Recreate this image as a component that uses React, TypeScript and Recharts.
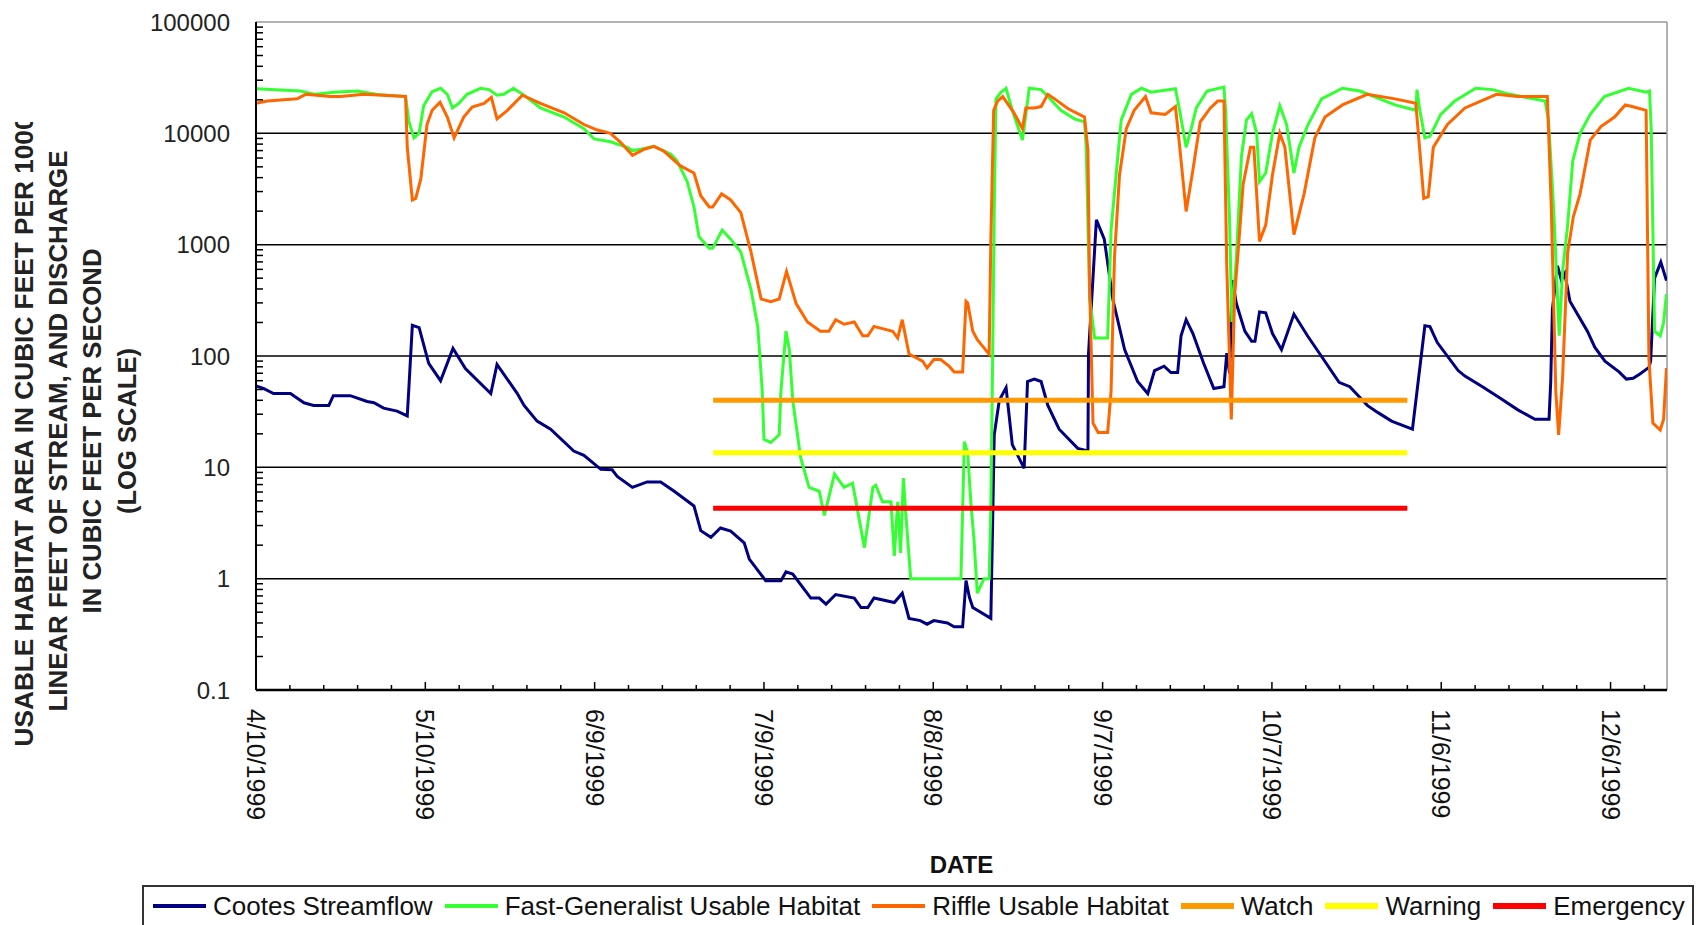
import React from "react";
import {
  LineChart,
  Line,
  XAxis,
  YAxis,
  ReferenceLine,
  Legend,
} from "recharts";

// x values are days since 4/10/1999
const dateTickDays = [0, 30, 60, 90, 120, 150, 180, 210, 240];
const dateTickLabels = [
  "4/10/1999",
  "5/10/1999",
  "6/9/1999",
  "7/9/1999",
  "8/8/1999",
  "9/7/1999",
  "10/7/1999",
  "11/6/1999",
  "12/6/1999",
];
const yMajorTicks = [0.1, 1, 10, 100, 1000, 10000, 100000];

const cootesDay = [
  0, 1.4, 3.1, 6.1, 8.5, 10.2, 12.9, 13.7, 16.7, 19.7, 20.9, 22.6, 25, 26.8, 27.1, 27.7,
  28.9, 30.6, 32.7, 34.9, 37.1, 41.6, 42.7, 46.3, 47.5, 49.8, 52.2, 56.3, 58.1, 61.1,
  63.1, 64, 66.7, 69.3, 71.7, 74.1, 77.6, 78.8, 80.6, 82.3, 84.1, 86.5, 87.4, 90.3, 93,
  93.9, 95.1, 98.3, 99.8, 101, 102.7, 106, 107.2, 108.4, 109.5, 113.1, 114.5, 115.7,
  117.7, 118.9, 120.1, 122.5, 123.7, 125.2, 125.8, 126.4, 127, 130.2, 130.5, 130.8, 131.7,
  132.9, 134, 136.1, 136.7, 137.9, 139.1, 140.3, 142.3, 145.6, 147.4, 147.5, 148.9, 150.3,
  151.8, 153.9, 156.2, 158, 159.2, 160.9, 162.1, 163.3, 163.9, 164.8, 166, 167.9, 169.7,
  171.5, 172, 172.5, 173, 173.7, 175.2, 176.4, 177, 177.8, 178.9, 180.1, 181.7, 183.9,
  186.3, 188.8, 191.9, 193.8, 196.9, 198.8, 201.2, 204.3, 204.9, 206.2, 207.1, 208, 209.3,
  213, 214.2, 217.3, 220.4, 223.5, 226.6, 229.1, 229.4, 229.7, 230.6, 231.3, 231.9, 232.8,
  235.9, 237.2, 239, 241.5, 242.8, 244, 245.2, 246.8, 247.1, 247.8, 248.9, 249.9,
];
const cootesCfs = [
  54, 51, 46, 46, 38, 36, 36, 44, 44, 39, 38, 34, 32, 29, 53, 189,
  180, 86, 60, 117, 77, 46, 84, 46, 36, 26, 22, 14, 12.8, 9.6,
  9.5, 8.3, 6.6, 7.4, 7.4, 6.1, 4.5, 2.7, 2.35, 2.85, 2.67, 2.1, 1.5, 0.96, 0.96,
  1.15, 1.1, 0.67, 0.67, 0.59, 0.72, 0.67, 0.55, 0.55, 0.67, 0.61, 0.74, 0.44,
  0.42, 0.39, 0.42, 0.4, 0.37, 0.37, 0.96, 0.68, 0.55, 0.44, 2.85, 19.6, 40,
  52, 16, 9.8, 59, 62, 59, 36, 22, 14.8, 14, 104, 1670, 1120,
  325, 114, 59, 46, 74, 81, 71, 71, 152, 212, 159, 86, 51,
  53, 106, 70, 480, 296, 167, 136, 136, 249, 244, 159, 114, 238,
  152, 99, 58, 53, 36, 31, 26, 22.6, 22, 78, 187, 184, 132,
  74, 66, 53, 42, 33, 27, 27, 59, 264, 646, 476, 550, 310,
  167, 120, 90, 72, 62, 63, 69, 79, 90, 500, 697, 476,
];

const fastDay = [
  0, 7.9, 10.5, 13.8, 17.9, 21.5, 26.5, 27.1, 28, 28.9, 29.7, 31.2, 32.7, 33.9, 34.8, 35.9,
  37.4, 39.8, 41.3, 42.7, 43.9, 45.6, 47.5, 50.4, 54.6, 58.1, 59.9, 62.8, 65.8, 66.7, 68.2,
  70.5, 73.5, 74.6, 76.4, 77.6, 78.5, 80.3, 80.9, 82.6, 84.1, 85.9, 87.7, 88.9, 89.7, 90,
  91.2, 92.7, 93, 93.9, 94.5, 95.1, 96.5, 98, 99.8, 100.7, 102.5, 104.2, 105.7, 107.8,
  109.3, 109.8, 111, 112.5, 113.1, 113.7, 114.2, 114.7, 115.1, 116, 124.9, 125.5, 126.1,
  126.7, 127.2, 127.8, 129, 129.9, 130.2, 130.5, 130.8, 131.1, 132, 132.9, 134, 135.8,
  136.4, 137, 139.1, 140.3, 142.6, 145, 146.8, 147.1, 147.7, 148.6, 150.9, 151.5, 152.4,
  153.3, 155.1, 156.9, 158.6, 162.9, 163.5, 164.8, 165.7, 166.6, 168.5, 171.5, 171.8,
  172.5, 172.9, 173.7, 174.6, 175.5, 176.4, 177.3, 177.8, 178.9, 180.1, 181.4, 182.6,
  183.9, 184.8, 186.4, 188.8, 192.5, 195.6, 201.8, 205.5, 205.7, 206.2, 207.1, 208,
  209.9, 212.4, 216.1, 219.1, 222.2, 228.4, 229, 229.9, 230.9, 231.5, 232.4, 233.3,
  234.6, 236.4, 238.9, 243.2, 246.3, 246.9, 247.2, 247.8, 248.8, 249.4, 249.9,
];
const fastHabitat = [
  25200, 24000, 22400, 23400, 24000, 22300, 21400, 12700, 9100, 10000, 17700, 23600, 25400, 22400, 16900, 18500,
  22400, 25400, 24700, 22000, 22400, 25400, 22000, 16900, 14000, 11000, 8900, 8400, 7500, 7000, 7200,
  7650, 6500, 5650, 3680, 2180, 1175, 927, 927, 1355, 1120, 860, 394, 184, 48.5, 17.9,
  16.7, 19.6, 48, 167, 114, 40, 12.2, 6.6, 6.1, 3.7, 8.7, 6.6, 7.2, 1.9,
  6.6, 6.9, 4.9, 4.9, 1.6, 4.9, 1.7, 8, 4, 1.0, 1.0, 17, 13.4,
  4.5, 2.3, 0.74, 1.0, 1.0, 4.5, 78, 1990, 20400, 23400, 25400, 16100, 8700,
  14800, 25400, 24700, 21400, 16100, 13500, 12700, 7500, 325, 145, 145, 1355, 4250,
  13200, 22400, 25400, 23400, 25200, 17700, 7500, 11000, 16900, 24000, 26000, 16100,
  1640, 202, 765, 6200, 13200, 15000, 10000, 3680, 4400, 10000, 17700, 12000,
  4400, 7500, 12000, 20400, 25400, 24000, 18000, 16100, 24700, 16100, 9100, 9400,
  14800, 19500, 25400, 24700, 22400, 19500, 13200, 2180, 152, 575, 1500, 5650,
  10000, 14800, 21400, 25400, 23400, 24000, 11000, 167, 152, 200, 360,
];

const riffleDay = [
  0, 2, 7.3, 8.8, 13.2, 15, 19.1, 26.5, 26.8, 27.7, 28.3, 29.2, 30.3, 31.2, 32.6, 33.9,
  35.1, 36.8, 38.3, 40.4, 41.7, 42.7, 44.5, 47.2, 50.4, 54.6, 58.1, 60.5, 62.8, 64.6,
  66.7, 68.8, 70.5, 72.3, 75.2, 77.6, 78.8, 80.3, 80.9, 82.5, 84.1, 85.9, 87.7, 89.5,
  91.2, 92.7, 94, 95.7, 97.7, 100, 101.5, 102.7, 104.2, 106, 107.5, 108.4, 109.5, 111,
  112.8, 113.7, 114.5, 115.7, 118.1, 118.9, 120.1, 121.3, 122.8, 123.7, 125.2, 125.8,
  126.1, 127, 127.8, 129.9, 130.2, 130.7, 131.4, 132.3, 134.3, 135.8, 136.4, 137.9,
  139.1, 140.3, 141.5, 143.9, 146.8, 147.4, 147.7, 148.3, 149.2, 150.9, 151.5, 152.1,
  153, 154.2, 155.6, 157.6, 158.6, 161.1, 162.9, 163.5, 164.8, 166, 167.3, 169.1, 170.4,
  171.5, 172, 172.8, 173.4, 174, 174.9, 176.2, 176.8, 177.8, 178.9, 180.1, 181.4, 182.3,
  183.9, 185.7, 187.6, 189.4, 192.5, 196.9, 201.8, 205.5, 206.2, 206.9, 207.7, 208.6,
  211.1, 214.2, 219.8, 223.5, 228.8, 229.5, 230.3, 230.8, 231.5, 232.4, 233.4, 234.6,
  236.4, 238.3, 240.7, 242.6, 243.8, 246.3, 246.8, 247.5, 248.8, 249.4, 249.9,
];
const riffleHabitat = [
  18600, 19500, 20400, 22400, 21400, 21400, 22400, 21400, 7500, 2520, 2600, 3900, 12000, 16100, 19000, 14000,
  9100, 14000, 17200, 18600, 21000, 13500, 16000, 22000, 18600, 15300, 12000, 10700, 10000, 8300,
  6350, 7200, 7650, 6900, 5100, 4400, 2750, 2180, 2180, 2860, 2520, 1940, 860, 325,
  308, 325, 575, 296, 202, 167, 167, 212, 193, 202, 152, 152, 184, 176,
  167, 145, 212, 104, 90, 78, 93, 93, 81, 72, 72, 310,
  300, 167, 140, 104, 1120, 16100, 19500, 21400, 15300, 11000, 16900, 16900,
  17400, 22400, 20400, 16600, 14000, 7000, 432, 25, 20.6, 20.6, 48, 765,
  4250, 11000, 16100, 21400, 15300, 14800, 17400, 9100, 1990, 4680, 12700, 16900, 19500,
  19500, 634, 26.9, 358, 850, 3500, 7500, 7500, 1070, 1500, 4250, 10000, 7500,
  1230, 2860, 9100, 14000, 18000, 22400, 20400, 18600, 7000, 2600, 2700, 7500,
  12000, 16900, 22400, 21400, 21400, 2180, 48, 19.6, 64, 850, 1780, 2860,
  8700, 11500, 14000, 18000, 17400, 16100, 94, 25, 21.6, 27, 78,
];

// trigger levels run 6/30/1999 - 10/31/1999
const triggerDays = [81, 204];
const watchLevel = [40, 40];
const warningLevel = [13.5, 13.5];
const emergencyLevel = [4.3, 4.3];

const seriesOrder = [
  "Cootes Streamflow",
  "Fast-Generalist Usable Habitat",
  "Riffle Usable Habitat",
  "Watch",
  "Warning",
  "Emergency",
];

const zip = (days: number[], vals: number[]) =>
  days.map((day, i) => ({ day, v: vals[i] }));

const minorTickDays = Array.from({ length: 42 }, (_, i) => i * 6);
const yTicks = [
  ...yMajorTicks,
  ...yMajorTicks.slice(0, 6).flatMap((d) =>
    [2, 3, 4, 5, 6, 7, 8, 9].map((m) => m * d)
  ),
].sort((a, b) => a - b);

const FONT = "'Liberation Sans', Arial, sans-serif";
const NARROW = "'Liberation Sans Narrow', 'Arial Narrow', 'Liberation Sans', Arial, sans-serif";
const thresholdNames = ["Watch", "Warning", "Emergency"];

function DateTick(props: any) {
  const { x, y, payload } = props;
  const idx = dateTickDays.indexOf(payload.value);
  const major = idx >= 0;
  return (
    <g>
      <line x1={x} x2={x} y1={y} y2={y - (major ? 8 : 5)} stroke="#000" strokeWidth={1.5} />
      {major && (
        <text
          transform={`translate(${x},${y + 19}) rotate(90)`}
          textAnchor="start"
          dominantBaseline="central"
          fontSize={25}
          fontFamily={FONT}
          fill="#111"
        >
          {dateTickLabels[idx]}
        </text>
      )}
    </g>
  );
}

function ValueTick(props: any) {
  const { x, y, payload } = props;
  const major = yMajorTicks.includes(payload.value);
  return (
    <g>
      {!major && <line x1={x} x2={x + 7} y1={y} y2={y} stroke="#000" strokeWidth={1.5} />}
      {major && (
        <text
          x={x - 26}
          y={y}
          textAnchor="end"
          dominantBaseline="central"
          fontSize={24}
          fontFamily={FONT}
          fill="#222"
        >
          {String(payload.value)}
        </text>
      )}
    </g>
  );
}

function YTitle() {
  const lines = [
    { text: "USABLE HABITAT AREA IN CUBIC FEET PER 1000", x: 24, len: 631 },
    { text: "LINEAR FEET OF STREAM, AND DISCHARGE", x: 58, len: 561 },
    { text: "IN CUBIC FEET PER SECOND", x: 92, len: 365 },
    { text: "(LOG SCALE)", x: 127, len: 166 },
  ];
  return (
    <g>
      <defs>
        <clipPath id="ytitle-clip">
          <rect x={0} y={122} width={150} height={700} />
        </clipPath>
      </defs>
      <g clipPath="url(#ytitle-clip)">
        {lines.map((l) => (
          <text
            key={l.text}
            transform={`translate(${l.x},431) rotate(-90)`}
            textAnchor="middle"
            dominantBaseline="central"
            fontSize={25}
            fontWeight="bold"
            fontFamily={NARROW}
            fill="#222"
            textLength={l.len}
            lengthAdjust="spacingAndGlyphs"
          >
            {l.text}
          </text>
        ))}
      </g>
    </g>
  );
}

function LegendBox(props: any) {
  const { payload = [] } = props;
  const items = [...payload].sort(
    (a: any, b: any) => seriesOrder.indexOf(a.value) - seriesOrder.indexOf(b.value)
  );
  return (
    <div
      style={{
        height: 40,
        boxSizing: "border-box",
        border: "2px solid #333",
        borderBottom: "none",
        background: "#fff",
        display: "flex",
        alignItems: "center",
        paddingLeft: 9,
        fontFamily: FONT,
        fontSize: 26,
        color: "#111",
        whiteSpace: "nowrap",
      }}
    >
      {items.map((e: any) => (
        <div key={e.value} style={{ display: "flex", alignItems: "center", marginRight: 12 }}>
          <span
            style={{
              display: "inline-block",
              width: 53,
              height: thresholdNames.includes(e.value) ? 6 : 4,
              background: e.color,
              marginRight: 7,
            }}
          />
          <span style={{ lineHeight: "28px" }}>{e.value}</span>
        </div>
      ))}
    </div>
  );
}

export default function App() {
  const cootes = zip(cootesDay, cootesCfs);
  const fast = zip(fastDay, fastHabitat);
  const riffle = zip(riffleDay, riffleHabitat);
  const watch = zip(triggerDays, watchLevel);
  const warning = zip(triggerDays, warningLevel);
  const emergency = zip(triggerDays, emergencyLevel);

  return (
    <div style={{ position: "absolute", left: 0, top: 0, width: 1698, height: 925, background: "#fff" }}>
      <LineChart width={1698} height={925} margin={{ top: 22, right: 31, bottom: 0, left: 0 }}>
        <XAxis
          type="number"
          dataKey="day"
          domain={[0, 250]}
          allowDataOverflow
          ticks={minorTickDays}
          interval={0}
          tick={<DateTick />}
          tickLine={false}
          tickSize={0}
          tickMargin={0}
          height={195}
          axisLine={{ stroke: "#000", strokeWidth: 2.5 }}
          label={{
            value: "DATE",
            position: "insideBottom",
            offset: 12,
            fontSize: 24,
            fontWeight: "bold",
            fontFamily: FONT,
            fill: "#111",
          }}
        />
        <YAxis
          type="number"
          scale="log"
          domain={[0.1, 100000]}
          allowDataOverflow
          ticks={yTicks}
          interval={0}
          tick={<ValueTick />}
          tickLine={false}
          tickSize={0}
          tickMargin={0}
          width={256}
          axisLine={{ stroke: "#000", strokeWidth: 2 }}
          label={<YTitle />}
        />
        {[1, 10, 100, 1000, 10000].map((v) => (
          <ReferenceLine key={v} y={v} stroke="#000" strokeWidth={1.5} />
        ))}
        <ReferenceLine y={100000} stroke="#999" strokeWidth={1.5} />
        <ReferenceLine x={250} stroke="#999" strokeWidth={1.5} />
        <Legend
          verticalAlign="bottom"
          content={<LegendBox />}
          wrapperStyle={{ left: 142, width: 1552 }}
        />
        <Line data={cootes} dataKey="v" name="Cootes Streamflow" type="linear" stroke="#000080" strokeWidth={3} dot={false} isAnimationActive={false} />
        <Line data={fast} dataKey="v" name="Fast-Generalist Usable Habitat" type="linear" stroke="#33ff33" strokeWidth={3} dot={false} isAnimationActive={false} />
        <Line data={riffle} dataKey="v" name="Riffle Usable Habitat" type="linear" stroke="#ff6600" strokeWidth={3} dot={false} isAnimationActive={false} />
        <Line data={watch} dataKey="v" name="Watch" type="linear" stroke="#ff9900" strokeWidth={5} dot={false} isAnimationActive={false} />
        <Line data={warning} dataKey="v" name="Warning" type="linear" stroke="#ffff00" strokeWidth={5} dot={false} isAnimationActive={false} />
        <Line data={emergency} dataKey="v" name="Emergency" type="linear" stroke="#ff0000" strokeWidth={5} dot={false} isAnimationActive={false} />
      </LineChart>
    </div>
  );
}
